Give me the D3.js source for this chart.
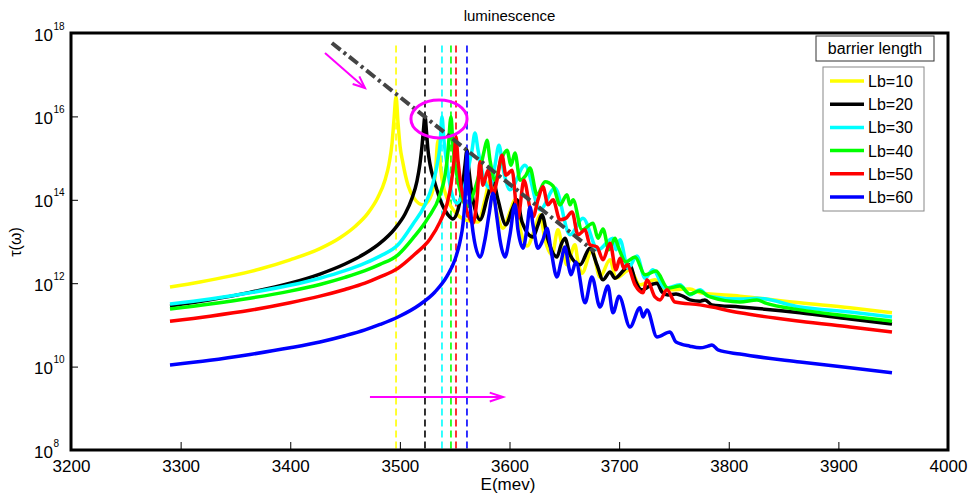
<!DOCTYPE html>
<html>
<head>
<meta charset="utf-8">
<script src="https://cdn.jsdelivr.net/npm/d3@7"></script>
<style>
  html, body { margin: 0; padding: 0; background: #fff; }
  svg { display: block; font-family: "Liberation Sans", Arial, Helvetica, sans-serif; }
</style>
</head>
<body>
<svg id="chart" width="973" height="500"></svg>
<script>
// Luminescence spectra, one array per barrier length.
// Each point is [E in meV, log10 of tau(omega)].
const lb10 = [[3290.3,11.91],[3317.7,12.03],[3345.0,12.17],[3372.4,12.34],[3399.8,12.56],[3427.1,12.83],[3445.4,13.09],[3459.1,13.36],[3470.9,13.68],[3480.0,14.06],[3486.4,14.47],[3490.1,14.86],[3492.8,15.34],[3494.6,15.91],[3496.5,16.47],[3498.3,15.85],[3500.1,15.30],[3502.8,14.88],[3507.4,14.35],[3512.9,14.04],[3521.1,13.88],[3527.5,14.04],[3532.0,14.52],[3534.8,15.43],[3537.5,14.67],[3543.0,14.04],[3550.3,13.71],[3559.4,13.52],[3571.3,13.47],[3577.6,14.00],[3582.2,14.47],[3586.8,13.88],[3594.1,13.32],[3600.4,13.71],[3605.0,14.00],[3609.6,13.32],[3616.0,12.89],[3623.2,13.32],[3627.8,13.64],[3632.4,13.04],[3638.8,12.68],[3644.2,13.28],[3648.8,12.75],[3652.4,12.44],[3659.7,12.92],[3662.5,12.51],[3666.1,12.24],[3675.2,12.80],[3682.5,12.15],[3691.7,12.56],[3697.1,12.12],[3709.9,12.32],[3719.0,11.96],[3732.7,12.08],[3741.8,11.84],[3764.6,11.86],[3773.8,11.77],[3810.2,11.69],[3865.0,11.53],[3910.6,11.41],[3948.9,11.29]];

const lb20 = [[3290.3,11.45],[3326.8,11.60],[3363.3,11.78],[3399.8,12.00],[3427.1,12.22],[3449.9,12.46],[3468.2,12.71],[3481.9,12.96],[3495.5,13.31],[3504.7,13.66],[3511.1,14.04],[3515.6,14.45],[3518.3,14.86],[3520.2,15.29],[3521.5,15.67],[3522.9,16.01],[3524.3,15.62],[3525.6,15.20],[3527.5,14.85],[3532.0,14.40],[3537.5,13.95],[3543.9,13.64],[3548.4,13.54],[3553.0,13.76],[3556.7,14.24],[3559.4,14.83],[3561.2,15.19],[3563.0,14.71],[3566.7,14.00],[3573.1,13.52],[3580.4,14.12],[3584.9,14.47],[3589.5,14.00],[3596.8,13.40],[3602.3,13.76],[3606.8,14.00],[3611.4,13.47],[3621.4,13.11],[3626.0,13.40],[3629.6,13.64],[3635.1,13.04],[3643.3,12.63],[3647.0,12.92],[3650.6,13.08],[3655.2,12.68],[3664.3,12.44],[3673.4,12.84],[3679.8,12.44],[3685.3,12.08],[3691.7,12.27],[3696.2,12.12],[3704.4,12.32],[3709.9,12.44],[3714.5,12.08],[3720.8,11.84],[3730.9,11.98],[3734.5,12.00],[3739.1,11.79],[3744.6,11.72],[3751.9,11.74],[3758.2,11.69],[3764.6,11.60],[3773.8,11.57],[3778.3,11.60],[3784.7,11.48],[3810.2,11.43],[3865.0,11.29],[3910.6,11.14],[3948.9,11.02]];

const lb30 = [[3290.3,11.50],[3326.8,11.62],[3363.3,11.77],[3399.8,11.95],[3427.1,12.12],[3449.9,12.30],[3468.2,12.48],[3481.9,12.65],[3498.3,12.92],[3512.0,13.42],[3522.9,13.88],[3530.2,14.40],[3533.9,14.83],[3536.6,15.31],[3538.4,15.99],[3540.2,15.43],[3543.0,14.83],[3546.6,14.24],[3552.1,13.92],[3557.6,14.19],[3562.1,14.71],[3565.8,15.19],[3568.5,15.60],[3571.3,15.19],[3575.8,14.59],[3582.2,14.28],[3586.8,14.83],[3590.4,15.31],[3594.1,14.76],[3600.4,14.24],[3614.1,14.83],[3627.8,13.76],[3641.5,14.28],[3655.2,13.16],[3667.0,13.56],[3680.7,12.80],[3694.4,13.08],[3697.1,12.80],[3700.8,13.04],[3708.1,12.36],[3716.3,12.65],[3723.6,12.12],[3730.9,12.32],[3741.8,11.88],[3755.5,11.96],[3764.6,11.72],[3773.8,11.84],[3781.0,11.69],[3810.2,11.62],[3825.7,11.64],[3865.0,11.43],[3910.6,11.31],[3948.9,11.19]];

const lb40 = [[3290.3,11.38],[3326.8,11.50],[3363.3,11.64],[3399.8,11.81],[3427.1,11.97],[3449.9,12.14],[3468.2,12.30],[3481.9,12.45],[3498.3,12.68],[3512.0,13.08],[3525.6,13.56],[3536.6,14.12],[3541.2,14.59],[3543.9,15.15],[3546.6,15.99],[3548.4,15.31],[3551.2,14.71],[3554.8,14.24],[3561.2,13.83],[3567.6,14.19],[3573.1,14.71],[3576.7,15.15],[3579.5,15.43],[3582.2,14.95],[3586.8,14.47],[3592.2,14.95],[3597.7,15.19],[3601.4,14.83],[3605.0,15.12],[3609.6,14.47],[3615.0,14.59],[3618.7,14.76],[3625.1,14.12],[3632.4,14.43],[3639.7,14.33],[3646.1,13.88],[3652.4,14.12],[3655.2,13.88],[3657.9,14.00],[3666.1,13.28],[3676.2,13.44],[3680.7,13.08],[3685.3,13.30],[3690.7,12.80],[3696.2,13.08],[3699.0,12.89],[3706.3,12.51],[3714.5,12.63],[3723.6,12.20],[3733.6,12.29],[3744.6,11.88],[3755.5,11.93],[3764.6,11.74],[3772.8,11.81],[3782.9,11.67],[3810.2,11.55],[3825.7,11.60],[3833.0,11.53],[3865.0,11.36],[3910.6,11.21],[3948.9,11.09]];

const lb50 = [[3290.3,11.09],[3326.8,11.21],[3363.3,11.35],[3399.8,11.53],[3427.1,11.69],[3449.9,11.85],[3468.2,12.00],[3481.9,12.15],[3498.3,12.36],[3513.8,12.70],[3527.5,13.06],[3536.6,13.47],[3543.0,13.90],[3546.6,14.35],[3549.4,14.95],[3551.2,15.51],[3553.0,14.95],[3555.7,14.35],[3560.3,13.80],[3566.7,13.44],[3570.3,14.00],[3573.1,14.91],[3575.8,14.35],[3580.4,14.71],[3584.9,14.12],[3588.6,14.47],[3593.1,15.07],[3596.8,14.59],[3602.3,14.71],[3607.7,13.56],[3613.2,14.47],[3618.7,13.80],[3621.4,13.59],[3626.0,14.00],[3630.5,14.31],[3635.1,13.88],[3639.7,14.00],[3646.1,13.52],[3651.5,13.56],[3657.0,13.71],[3662.5,13.16],[3668.9,13.28],[3673.4,12.92],[3679.8,12.87],[3685.3,12.56],[3691.7,12.96],[3697.1,12.32],[3700.8,12.60],[3704.4,12.36],[3707.2,12.44],[3714.5,11.96],[3721.8,11.77],[3725.4,12.08],[3732.7,11.67],[3737.3,11.60],[3743.6,11.84],[3750.9,11.55],[3773.8,11.48],[3810.2,11.29],[3865.0,11.09],[3910.6,10.95],[3948.9,10.83]];

const lb60 = [[3290.3,10.04],[3326.8,10.15],[3363.3,10.29],[3399.8,10.45],[3427.1,10.59],[3449.9,10.74],[3468.2,10.88],[3481.9,11.01],[3498.3,11.19],[3518.3,11.49],[3532.0,11.79],[3543.0,12.17],[3550.3,12.57],[3554.8,12.99],[3557.6,13.43],[3559.4,14.00],[3560.3,14.59],[3561.2,15.15],[3562.1,14.59],[3564.0,13.88],[3566.7,13.23],[3573.1,12.63],[3577.6,13.04],[3581.3,13.64],[3584.9,14.16],[3588.6,13.56],[3591.3,13.04],[3595.9,12.63],[3600.4,13.16],[3605.0,13.88],[3607.7,13.28],[3612.3,12.84],[3616.0,13.32],[3618.7,13.83],[3621.4,13.40],[3626.0,12.84],[3630.5,13.04],[3634.2,13.32],[3637.8,12.80],[3643.3,12.15],[3647.0,12.51],[3650.6,12.87],[3654.3,12.36],[3656.1,12.20],[3660.6,12.51],[3668.9,11.53],[3675.2,12.15],[3682.5,11.43],[3689.8,11.93],[3694.4,11.29],[3699.9,11.69],[3709.9,10.95],[3719.0,11.41],[3721.8,11.19],[3725.4,11.36],[3734.5,10.71],[3746.4,10.83],[3751.9,10.59],[3764.6,10.49],[3773.8,10.45],[3781.0,10.49],[3784.7,10.52],[3790.2,10.40],[3810.2,10.30],[3865.0,10.11],[3910.6,9.97],[3948.9,9.85]];

const seriesNames  = ["Lb=10", "Lb=20", "Lb=30", "Lb=40", "Lb=50", "Lb=60"];
const seriesData   = [lb10, lb20, lb30, lb40, lb50, lb60];
const seriesColors = ["#ffff00", "#000000", "#00ffff", "#00ff00", "#ff0000", "#0000ff"];

// Energy of the first resonance for each barrier length (dashed markers)
const resonanceE = [3496.5, 3522.9, 3538.4, 3546.6, 3551.2, 3561.2];
const markerTopExp = 17.7;

// Trend through the first resonances: [E, log10 tau]
const trendLine = [[3438, 17.76], [3678, 12.75]];
// Highlighted group of leading peaks: centre, half-widths (meV, decades)
const highlight = { e: 3535.7, exp: 15.94, de: 25.6, dexp: 0.455 };
// Annotation arrows: [[E0, exp0], [E1, exp1]]
const arrowDown  = [[3431.7, 17.52], [3468.2, 16.68]];
const arrowShift = [[3472.7, 9.27], [3594.1, 9.27]];

const xTicks = [3200, 3300, 3400, 3500, 3600, 3700, 3800, 3900, 4000];
const yTickExps = [8, 10, 12, 14, 16, 18];

const svg = d3.select("#chart");
const plotL = 71, plotR = 948, plotT = 33, plotB = 450;

const x = d3.scaleLinear().domain([3200, 4000]).range([plotL, plotR]);
const y = d3.scaleLog().domain([1e8, 1e18]).range([plotB, plotT]);
const yE = e => y(Math.pow(10, e));

// Title and axis labels
svg.append("text").attr("x", (plotL + plotR) / 2).attr("y", 21)
  .attr("text-anchor", "middle").attr("font-size", 15).text("luminescence");
svg.append("text").attr("x", 508).attr("y", 490)
  .attr("text-anchor", "middle").attr("font-size", 17).text("E(mev)");
svg.append("text").attr("transform", "translate(21,242) rotate(-90)")
  .attr("text-anchor", "middle").attr("font-size", 16).text("τ(ω)");

// X axis
const xAxis = svg.append("g").attr("transform", `translate(0,${plotB})`)
  .call(d3.axisBottom(x).tickValues(xTicks).tickSize(-8).tickPadding(10).tickFormat(d3.format("d")));
xAxis.select(".domain").remove();
xAxis.selectAll(".tick line").attr("stroke", "#000").attr("stroke-width", 1);
xAxis.selectAll(".tick text").attr("font-size", 17).attr("fill", "#000")
  .attr("font-family", "Liberation Sans, Arial, sans-serif");

// Y axis (powers of ten with superscript exponents)
const yAxis = svg.append("g").attr("transform", `translate(${plotL},0)`)
  .call(d3.axisLeft(y).tickValues(yTickExps.map(e => Math.pow(10, e))).tickSize(-7).tickFormat(() => ""));
yAxis.select(".domain").remove();
yAxis.selectAll(".tick line").attr("stroke", "#000").attr("stroke-width", 1);
yAxis.selectAll(".tick").each(function(d) {
  const g = d3.select(this);
  g.append("text").attr("x", -18).attr("y", 7).attr("text-anchor", "end")
    .attr("font-size", 17).attr("fill", "#000").text("10");
  g.append("text").attr("x", -17.5).attr("y", -4).attr("text-anchor", "start")
    .attr("font-size", 10).attr("fill", "#000").text(String(Math.round(Math.log10(d))));
});

// Dashed resonance markers
svg.append("g").selectAll("line").data(resonanceE).join("line")
  .attr("x1", d => x(d)).attr("x2", d => x(d))
  .attr("y1", yE(markerTopExp)).attr("y2", plotB)
  .attr("stroke", (d, i) => seriesColors[i]).attr("stroke-width", 1.6)
  .attr("stroke-dasharray", "7,4");

// Spectra
const line = d3.line().x(d => x(d[0])).y(d => yE(d[1])).curve(d3.curveMonotoneX);
svg.append("g").selectAll("path").data(seriesData).join("path")
  .attr("d", line).attr("fill", "none")
  .attr("stroke", (d, i) => seriesColors[i]).attr("stroke-width", 3.5)
  .attr("stroke-linejoin", "round");

// Trend of the leading resonances
svg.append("path")
  .attr("d", d3.line().x(d => x(d[0])).y(d => yE(d[1]))(trendLine))
  .attr("fill", "none").attr("stroke", "#444").attr("stroke-width", 4)
  .attr("stroke-dasharray", "11,4,3,4");

// Highlight ellipse
svg.append("ellipse")
  .attr("cx", x(highlight.e)).attr("cy", yE(highlight.exp))
  .attr("rx", x(highlight.e + highlight.de) - x(highlight.e))
  .attr("ry", yE(highlight.exp - highlight.dexp) - yE(highlight.exp))
  .attr("fill", "none").attr("stroke", "#ff00ff").attr("stroke-width", 3);

// Arrows
function drawArrow(pts, len, ang) {
  const x0 = x(pts[0][0]), y0 = yE(pts[0][1]);
  const x1 = x(pts[1][0]), y1 = yE(pts[1][1]);
  const a = Math.atan2(y1 - y0, x1 - x0);
  const g = svg.append("g").attr("stroke", "#ff00ff").attr("stroke-width", 2).attr("fill", "none");
  g.append("line").attr("x1", x0).attr("y1", y0).attr("x2", x1).attr("y2", y1);
  const p1 = [x1 - len * Math.cos(a - ang), y1 - len * Math.sin(a - ang)];
  const p2 = [x1 - len * Math.cos(a + ang), y1 - len * Math.sin(a + ang)];
  g.append("path").attr("d", `M${p1[0]},${p1[1]}L${x1},${y1}L${p2[0]},${p2[1]}`)
    .attr("stroke-linejoin", "miter");
}
drawArrow(arrowDown, 13, 0.4);
drawArrow(arrowShift, 14, 0.32);

// Plot frame
svg.append("rect").attr("x", plotL).attr("y", plotT)
  .attr("width", plotR - plotL).attr("height", plotB - plotT)
  .attr("fill", "none").attr("stroke", "#000").attr("stroke-width", 3);

// Legend title box
const lg = svg.append("g");
lg.append("rect").attr("x", 816).attr("y", 36).attr("width", 118).attr("height", 25)
  .attr("fill", "#fff").attr("stroke", "#333").attr("stroke-width", 1);
lg.append("text").attr("x", 875).attr("y", 54).attr("text-anchor", "middle")
  .attr("font-size", 16).text("barrier length");

// Legend entries
lg.append("rect").attr("x", 823).attr("y", 67).attr("width", 101).attr("height", 144)
  .attr("fill", "#fff").attr("stroke", "#888").attr("stroke-width", 1);
const rows = lg.selectAll("g.row").data(seriesNames).join("g").attr("class", "row")
  .attr("transform", (d, i) => `translate(0,${81 + i * 23.2})`);
rows.append("line").attr("x1", 830).attr("x2", 864).attr("y1", 0).attr("y2", 0)
  .attr("stroke", (d, i) => seriesColors[i]).attr("stroke-width", 3.5);
rows.append("text").attr("x", 868).attr("y", 6).attr("font-size", 16).text(d => d);
</script>
</body>
</html>
